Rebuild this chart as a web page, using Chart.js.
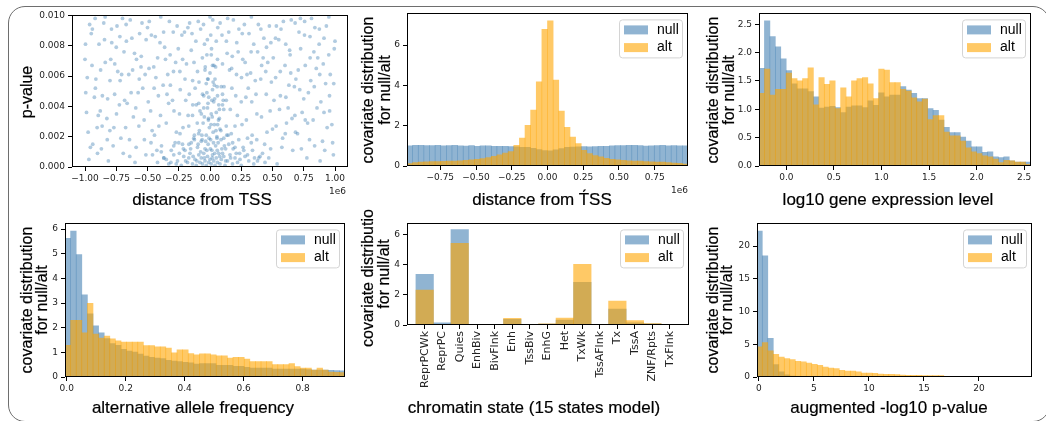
<!DOCTYPE html>
<html>
<head>
<meta charset="utf-8">
<script src="https://cdn.jsdelivr.net/npm/chart.js@4.4.1/dist/chart.umd.min.js"></script>
<style>
body { margin: 0; background: #fff; width: 1046px; height: 421px; overflow: hidden; position: relative; }
#frame { position: absolute; left: 8px; top: 6px; width: 1040px; height: 414px; border: 1.5px solid #6e6e6e; border-radius: 17px; }
.panel { position: absolute; }
.xt, .yt { position: absolute; font-family: "Liberation Sans", Arial, sans-serif; font-size: 16px; color: #000; white-space: nowrap; transform: translate(-50%, -50%); -webkit-text-stroke: 0.2px #000; }
.xt { font-size: 17px; }
.yt { transform: translate(-50%, -50%) rotate(-90deg); }
.off { position: absolute; font: 9px "DejaVu Sans"; color: #222; transform: translate(-100%, -50%); }
</style>
</head>
<body>
<div id="frame"></div>
<div class="panel" id="b1"><canvas id="c1"></canvas></div>
<div class="panel" id="b2"><canvas id="c2"></canvas></div>
<div class="panel" id="b3"><canvas id="c3"></canvas></div>
<div class="panel" id="b4"><canvas id="c4"></canvas></div>
<div class="panel" id="b5"><canvas id="c5"></canvas></div>
<div class="panel" id="b6"><canvas id="c6"></canvas></div>

<div class="xt" style="left:202px;top:200px">distance from TSS</div>
<div class="yt" style="left:27px;top:92px">p-value</div>
<div class="off" style="left:346px;top:191px">1e6</div>

<div class="xt" style="left:542px;top:200px">distance from T&#769;SS</div>
<div class="yt" style="left:368px;top:90px">covariate distribution</div>
<div class="yt" style="left:385px;top:90px">for null/alt</div>
<div class="off" style="left:688px;top:190px">1e6</div>

<div class="xt" style="left:888px;top:200px">log10 gene expression level</div>
<div class="yt" style="left:713px;top:90px">covariate distribution</div>
<div class="yt" style="left:729px;top:90px">for null/alt</div>

<div class="xt" style="left:193px;top:408px">alternative allele frequency</div>
<div class="yt" style="left:27px;top:300px">covariate distribution</div>
<div class="yt" style="left:42px;top:300px">for null/alt</div>

<div class="xt" style="left:534px;top:408px">chromatin state (15 states model)</div>
<div class="yt" style="left:368px;top:278px">covariate distributio</div>
<div class="yt" style="left:384px;top:274px">for null/alt</div>

<div class="xt" style="left:889px;top:408px">augmented -log10 p-value</div>
<div class="yt" style="left:713px;top:300px">covariate distribution</div>
<div class="yt" style="left:727px;top:300px">for null/alt</div>

<script>
// ---- panel 1: p-value vs distance from TSS (distance in units of 1e6)
const tssPoints = [
  [-1.00,.0071],[-0.975,.0023],[-0.95,.0088],[-0.925,.0046],[-0.90,.0009],[-0.875,.0064],[-0.85,.0095],[-0.825,.0032],[-0.80,.0057],[-0.775,.0014],
  [-0.75,.0079],[-0.725,.0041],[-0.70,.0098],[-0.675,.0026],[-0.65,.0061],[-0.625,.0085],[-0.60,.0003],[-0.575,.0049],[-0.55,.0073],[-0.525,.0018],
  [-0.50,.0092],[-0.475,.0037],[-0.45,.0066],[-0.425,.0011],[-0.40,.0082],[-0.375,.0054],[-0.35,.0029],[-0.325,.0096],[-0.30,.0044],[-0.275,.0069],
  [-0.25,.0016],[-0.225,.0087],[-0.20,.0058],[-0.175,.0034],[-0.15,.0077],[-0.125,.0021],[-0.10,.0063],[-0.075,.0091],[-0.05,.0047],[-0.025,.0074],
  [0.00,.0099],[0.025,.0056],[0.05,.0083],[0.075,.0038],[0.10,.0068],[0.125,.0012],[0.15,.0089],[0.175,.0052],[0.20,.0027],[0.225,.0076],
  [0.25,.0043],[0.275,.0094],[0.30,.0019],[0.325,.0062],[0.35,.0081],[0.375,.0035],[0.40,.0007],[0.425,.0072],[0.45,.0048],[0.475,.0093],
  [0.50,.0025],[0.525,.0059],[0.55,.0084],[0.575,.0013],[0.60,.0067],[0.625,.0039],[0.65,.0097],[0.675,.0053],[0.70,.0022],[0.725,.0078],
  [0.75,.0045],[0.775,.0006],[0.80,.0086],[0.825,.0031],[0.85,.0065],[0.875,.0091],[0.90,.0017],[0.925,.0055],[0.95,.0074],[0.975,.0028],[1.00,.0083],
  [-0.988,.0036],[-0.963,.0094],[-0.938,.0015],[-0.913,.0058],[-0.888,.0081],[-0.863,.0027],[-0.838,.0069],[-0.813,.0004],[-0.788,.0091],[-0.763,.0048],
  [-0.738,.0063],[-0.713,.0019],[-0.688,.0076],[-0.663,.0042],[-0.638,.0097],[-0.613,.0033],[-0.588,.0071],[-0.563,.0088],[-0.538,.0052],[-0.513,.0008],
  [-0.488,.0065],[-0.463,.0024],[-0.438,.0086],[-0.413,.0047],[-0.388,.0014],[-0.363,.0079],[-0.338,.0061],[-0.313,.0003],[-0.288,.0037],[-0.263,.0093],
  [-0.238,.0051],[-0.213,.0012],[-0.188,.0068],[-0.163,.0095],[-0.138,.0041],[-0.113,.0083],[-0.088,.0056],[-0.063,.0018],[-0.038,.0066],[-0.013,.0031],
  [0.012,.0078],[0.037,.0045],[0.062,.0092],[0.087,.0024],[0.112,.0053],[0.137,.0075],[0.162,.0038],[0.187,.0097],[0.212,.0061],[0.237,.0009],
  [0.262,.0071],[0.287,.0046],[0.312,.0088],[0.337,.0021],[0.362,.0057],[0.387,.0094],[0.412,.0033],[0.437,.0015],[0.462,.0069],[0.487,.0082],
  [0.512,.0044],[0.537,.0002],[0.562,.0063],[0.587,.0096],[0.612,.0029],[0.637,.0077],[0.662,.0011],[0.687,.0058],[0.712,.0089],[0.737,.0036],
  [0.762,.0067],[0.787,.0049],[0.812,.0098],[0.837,.0014],[0.862,.0072],[0.887,.0043],[0.912,.0085],[0.937,.0026],[0.962,.0061],[0.987,.0008],
  [-0.994,.0049],[-0.969,.0005],[-0.944,.0067],[-0.919,.0098],[-0.894,.0034],[-0.869,.0012],[-0.844,.0084],[-0.819,.0045],[-0.794,.0071],[-0.769,.0026],
  [-0.744,.0093],[-0.719,.0057],[-0.694,.0009],[-0.669,.0083],[-0.644,.0018],[-0.619,.0064],[-0.594,.0039],[-0.569,.0027],[-0.544,.0095],[-0.519,.0061],
  [-0.494,.0043],[-0.469,.0087],[-0.444,.0021],[-0.419,.0072],[-0.394,.0099],[-0.369,.0006],[-0.344,.0048],[-0.319,.0074],[-0.294,.0089],[-0.269,.0023],
  [-0.244,.0035],[-0.219,.0071],[-0.194,.0044],[-0.169,.0015],[-0.144,.0088],[-0.119,.0052],[-0.094,.0096],[-0.069,.0035],[-0.044,.0081],[-0.019,.0058],
  [0.006,.0087],[0.031,.0067],[0.056,.0019],[0.081,.0095],[0.106,.0044],[0.131,.0083],[0.156,.0064],[0.181,.0016],[0.206,.0047],[0.231,.0091],
  [0.256,.0028],[0.281,.0069],[0.306,.0052],[0.331,.0099],[0.356,.0006],[0.381,.0076],[0.406,.0058],[0.431,.0085],[0.456,.0023],[0.481,.0037],
  [0.506,.0072],[0.531,.0093],[0.556,.0038],[0.581,.0019],[0.606,.0081],[0.631,.0054],[0.656,.0032],[0.681,.0095],[0.706,.0064],[0.731,.0012],
  [0.756,.0087],[0.781,.0029],[0.806,.0057],[0.831,.0076],[0.856,.0039],[0.881,.0004],[0.906,.0068],[0.931,.0093],[0.956,.0047],[0.981,.0016],
  [-0.996,.0081],[-0.957,.0013],[-0.917,.0052],[-0.878,.0037],[-0.839,.0099],[-0.801,.0024],[-0.762,.0068],[-0.721,.0086],[-0.683,.0044],[-0.642,.0007],
  [-0.604,.0075],[-0.566,.0058],[-0.527,.0031],[-0.486,.0096],[-0.447,.0052],[-0.409,.0027],[-0.371,.0089],[-0.331,.0042],[-0.292,.0063],[-0.254,.0078],
  [-0.216,.0026],[-0.177,.0092],[-0.139,.0057],[-0.102,.0029],[-0.061,.0072],[-0.021,.0084],[0.018,.0033],[0.057,.0053],[0.096,.0087],[0.134,.0021],
  [0.173,.0065],[0.214,.0082],[0.252,.0059],[0.291,.0031],[0.329,.0076],[0.368,.0048],[0.407,.0091],[0.446,.0063],[0.485,.0012],[0.524,.0085],
  [0.563,.0047],[0.602,.0022],[0.641,.0074],[0.679,.0034],[0.718,.0051],[0.757,.0096],[0.796,.0018],[0.834,.0053],[0.873,.0081],[0.912,.0036],
  [0.951,.0099],[0.990,.0055],
  [-0.982,.0059],[-0.941,.0091],[-0.903,.0026],[-0.861,.0047],[-0.822,.0018],[-0.786,.0082],[-0.748,.0035],[-0.707,.0061],[-0.671,.0094],[-0.631,.0049],
  [-0.591,.0013],[-0.552,.0066],[-0.511,.0084],[-0.472,.0016],[-0.433,.0059],[-0.396,.0034],[-0.356,.0071],[-0.317,.0054],[-0.279,.0016],[-0.241,.0063],
  [-0.204,.0089],[-0.166,.0048],[-0.128,.0069],[-0.091,.0022],[-0.052,.0094],[-0.016,.0042],[0.022,.0097],[0.061,.0028],[0.100,.0041],[0.141,.0098],
  [0.178,.0073],[0.219,.0034],[0.258,.0088],[0.296,.0061],[0.334,.0043],[0.374,.0018],[0.413,.0067],[0.452,.0079],[0.491,.0056],[0.529,.0027],
  [0.568,.0091],[0.607,.0046],[0.646,.0062],[0.684,.0023],[0.723,.0098],[0.762,.0031],[0.801,.0072],[0.839,.0092],[0.878,.0061],[0.918,.0011],
  [0.957,.0037],[0.994,.0078],
  [-0.42,.0003],[-0.37,.0006],[-0.33,.0002],[-0.29,.0008],[-0.26,.0004],[-0.23,.0001],[-0.21,.0007],[-0.18,.0003],[-0.16,.0009],[-0.14,.0002],
  [-0.12,.0005],[-0.11,.0001],[-0.09,.0008],[-0.08,.0003],[-0.07,.0006],[-0.06,.0002],[-0.05,.0009],[-0.04,.0004],[-0.03,.0001],[-0.02,.0007],
  [-0.01,.0003],[0.00,.0005],[0.01,.0002],[0.02,.0008],[0.03,.0004],[0.04,.0001],[0.05,.0006],[0.06,.0003],[0.07,.0009],[0.08,.0002],
  [0.09,.0005],[0.11,.0007],[0.12,.0001],[0.14,.0004],[0.16,.0008],[0.18,.0002],[0.20,.0006],[0.22,.0003],[0.25,.0001],[0.28,.0007],
  [0.31,.0004],[0.35,.0002],[0.39,.0006],[0.44,.0003],
  [-0.35,.0005],[-0.31,.0011],[-0.27,.0002],[-0.245,.0009],[-0.22,.0015],[-0.195,.0004],[-0.17,.0006],[-0.155,.0012],[-0.135,.0007],[-0.125,.0018],
  [-0.105,.0004],[-0.095,.0015],[-0.075,.0010],[-0.065,.0021],[-0.045,.0006],[-0.035,.0017],[-0.025,.0011],[-0.012,.0032],[-0.008,.0019],[0.003,.0012],
  [0.008,.0028],[0.018,.0006],[0.028,.0016],[0.038,.0009],[0.048,.0024],[0.058,.0011],[0.068,.0031],[0.078,.0007],[0.088,.0018],[0.100,.0009],
  [0.115,.0014],[0.125,.0004],[0.145,.0021],[0.165,.0006],[0.185,.0012],[0.21,.0009],[0.24,.0005],[0.265,.0013],[0.30,.0008],[0.34,.0011],
  [0.38,.0004],[0.42,.0009],[-0.39,.0010],[0.47,.0006],[-0.46,.0008],
  [-0.29,.0014],[-0.24,.0022],[-0.20,.0011],[-0.17,.0027],[-0.15,.0016],[-0.13,.0019],[-0.10,.0013],[-0.085,.0024],[-0.07,.0017],[-0.055,.0029],
  [-0.04,.0012],[-0.03,.0021],[-0.015,.0015],[-0.005,.0026],[0.005,.0018],[0.015,.0011],[0.025,.0023],[0.035,.0028],[0.045,.0014],[0.055,.0020],
  [0.065,.0016],[0.08,.0025],[0.095,.0012],[0.11,.0019],[0.13,.0027],[0.15,.0015],[0.17,.0022],[0.20,.0013],[0.23,.0018],[0.27,.0011],[0.33,.0016],
  [-0.14,.0034],[-0.11,.0041],[-0.08,.0037],[-0.06,.0048],[-0.045,.0033],[-0.03,.0055],[-0.02,.0039],[-0.01,.0046],[0.00,.0062],[0.01,.0035],
  [0.02,.0051],[0.03,.0043],[0.04,.0058],[0.05,.0036],[0.06,.0047],[0.075,.0032],[0.09,.0053],[0.11,.0038],[0.13,.0044],[0.02,.0067],
  [-0.04,.0064],[0.06,.0071],[-0.09,.0042],[-0.05,.0039],[-0.025,.0049],[0.015,.0044],[0.035,.0054],[0.07,.0041],[0.10,.0048],[-0.015,.0058],
  [0.045,.0066],[0.01,.0074]
];
const tssXTicks = [-1, -0.75, -0.5, -0.25, 0, 0.25, 0.5, 0.75, 1];
const pvalYTicks = [0, 0.002, 0.004, 0.006, 0.008, 0.010];

// ---- panel 2: distance from TSS histogram (50 bins, units of 1e6)
const tssBinStart = -0.983, tssBinWidth = 0.03932;
const tssNull = [1.00,1.02,1.02,1.01,1.01,1.02,1.00,1.01,1.02,1.00,0.99,1.01,0.98,1.00,1.00,0.98,0.97,0.97,0.96,0.95,
                 0.93,0.92,0.88,0.82,0.76,0.75,0.80,0.87,0.92,0.94,0.95,0.96,0.95,0.96,0.97,0.98,1.00,1.01,1.01,1.02,
                 1.02,1.01,0.99,1.00,1.01,1.02,1.00,1.01,1.00,1.00];
const tssAlt = [0.12,0.17,0.20,0.21,0.22,0.22,0.23,0.24,0.25,0.26,0.28,0.30,0.33,0.37,0.42,0.48,0.55,0.64,0.72,1.03,
                1.39,2.02,2.77,4.18,6.78,7.20,4.26,2.72,1.92,1.44,1.11,0.78,0.62,0.52,0.45,0.38,0.33,0.30,0.28,0.26,
                0.25,0.24,0.22,0.21,0.20,0.19,0.17,0.15,0.13,0.10];
const tssHistXTicks = [-0.75, -0.5, -0.25, 0, 0.25, 0.5, 0.75];
const tssHistYTicks = [0, 2, 4, 6];

// ---- panel 3: log10 gene expression level (50 bins)
const exprBinStart = -0.288, exprBinWidth = 0.0572;
const exprNull = [1.72,2.56,2.28,2.10,1.89,1.68,1.45,1.36,1.36,1.31,1.22,1.02,1.04,1.05,1.03,0.94,1.04,1.06,1.06,1.03,
                  1.15,1.07,1.29,1.22,1.25,1.25,1.40,1.34,1.28,1.19,1.19,1.01,0.98,0.81,0.68,0.59,0.59,0.51,0.44,0.34,
                  0.34,0.24,0.25,0.16,0.15,0.16,0.09,0.07,0.07,0.07];
const exprAlt = [1.28,1.71,1.25,1.35,1.35,1.64,1.54,1.50,1.54,1.73,1.08,1.56,1.44,1.50,1.01,1.38,1.22,1.50,1.54,1.56,
                 1.45,1.19,1.71,1.69,1.47,1.47,1.35,1.32,1.20,1.13,1.18,0.82,0.89,0.89,0.60,0.53,0.53,0.44,0.32,0.25,
                 0.22,0.18,0.16,0.12,0.06,0.10,0.09,0.07,0.07,0.03];
const exprXTicks = [0, 0.5, 1, 1.5, 2, 2.5];
const exprYTicks = [0, 0.5, 1, 1.5, 2, 2.5];

// ---- panel 4: alternative allele frequency (50 bins)
const afBinStart = -0.006, afBinWidth = 0.019;
const afNull = [5.62,5.92,4.97,3.33,2.56,2.08,1.79,1.56,1.36,1.28,1.12,1.05,1.01,0.93,0.85,0.80,0.77,0.75,0.68,0.65,
                0.63,0.60,0.57,0.52,0.54,0.54,0.54,0.47,0.47,0.47,0.43,0.43,0.39,0.36,0.36,0.36,0.36,0.32,0.32,0.32,
                0.32,0.32,0.32,0.30,0.28,0.28,0.28,0.27,0.26,0.25];
const afAlt = [1.28,2.30,2.30,1.79,2.99,1.74,1.58,1.66,1.55,1.47,1.42,1.42,1.42,1.42,1.27,1.27,1.22,1.22,1.17,0.98,
               1.10,1.10,0.95,0.90,0.94,0.94,0.90,0.86,0.86,0.77,0.80,0.80,0.73,0.63,0.63,0.63,0.63,0.50,0.50,0.50,
               0.54,0.42,0.36,0.36,0.28,0.36,0.28,0.20,0.19,0.18];
const afXTicks = [0, 0.2, 0.4, 0.6, 0.8];
const afYTicks = [0, 1, 2, 3, 4, 5, 6];

// ---- panel 5: chromatin state (15 states model)
const states = ['ReprPCWk','ReprPC','Quies','EnhBiv','BivFlnk','Enh','TssBiv','EnhG','Het','TxWk','TssAFlnk','Tx','TssA','ZNF/Rpts','TxFlnk'];
const stateNull = [3.35,0.15,6.32,0.01,0.00,0.37,0.01,0.06,0.33,2.83,0.02,1.06,0.15,0.07,0.02];
const stateAlt  = [2.32,0.05,5.41,0.02,0.01,0.45,0.02,0.08,0.46,4.02,0.03,1.59,0.29,0.09,0.03];
const stateYTicks = [0, 2, 4, 6];

// ---- panel 6: augmented -log10 p-value (34 bins)
const augBinStart = -0.2, augBinWidth = 0.5;
const augNull = [22.3,18.5,5.9,1.9,0.8,0.35,0.15,0.08,0.04,0.02,0,0,0,0,0,0,0,0,0,0,0,0,0,0,0,0,0,0,0,0,0,0,0,0];
const augAlt = [4.6,5.25,4.0,3.47,3.06,2.8,2.65,2.4,2.3,2.14,1.94,1.8,1.5,1.38,1.28,1.02,0.92,0.92,0.8,0.6,
                0.6,0.56,0.46,0.4,0.4,0.36,0.3,0.26,0.25,0.25,0.22,0.22,0.2,0.2];
const augXTicks = [0, 5, 10, 15, 20];
const augYTicks = [0, 5, 10, 15, 20];

// ---- layout (plot area of each panel in page pixels: left, top, right, bottom)
const PAD_L = 48, PAD_T = 8, PAD_R = 16;
const BLUE = 'rgba(70,130,180,0.6)';
const ORANGE = 'rgba(255,165,0,0.6)';

Chart.defaults.font.family = 'DejaVu Sans';
Chart.defaults.animation = false;

function place(id, r, padB) {
    const el = document.getElementById(id);
    el.style.left = (r[0] - PAD_L) + 'px';
    el.style.top = (r[1] - PAD_T) + 'px';
    el.style.width = (r[2] - r[0] + PAD_L + PAD_R) + 'px';
    el.style.height = (r[3] - r[1] + PAD_T + padB) + 'px';
}

function fmt(v, d) {
    return (v < 0 ? '\u2212' : '') + Math.abs(v).toFixed(d);
}

function axis(min, max, ticks, label, fit, extra) {
    const a = {
        type: 'linear', min: min, max: max, offset: false,
        afterBuildTicks: s => { s.ticks = ticks.map(v => ({ value: v })); },
        afterFit: fit,
        grid: { drawOnChartArea: false, tickLength: 4, tickColor: '#000', offset: false },
        border: { display: false },
        ticks: { autoSkip: false, maxRotation: 0, minRotation: 0, color: '#222', font: { size: 9 }, padding: 2, callback: label }
    };
    if (extra) Object.assign(a.ticks, extra);
    return a;
}

// spines + legend box, drawn over the bars
const framePlugin = {
    id: 'frame',
    afterDatasetsDraw(chart) {
        const ctx = chart.ctx, a = chart.chartArea;
        ctx.save();
        ctx.strokeStyle = '#000';
        ctx.lineWidth = 1;
        ctx.strokeRect(Math.round(a.left) + 0.5, Math.round(a.top) + 0.5,
                       Math.round(a.right - a.left) - 1, Math.round(a.bottom - a.top) - 1);
        const sets = chart.data.datasets;
        if (sets.length > 1) {
            const bx = a.right - 69, by = a.top + 6;
            ctx.beginPath();
            ctx.roundRect(bx + 0.5, by + 0.5, 63, 38, 3);
            ctx.fillStyle = 'rgba(255,255,255,0.8)';
            ctx.fill();
            ctx.strokeStyle = '#d4d4d4';
            ctx.stroke();
            ctx.font = '14px "Liberation Sans"';
            ctx.textBaseline = 'middle';
            sets.forEach((ds, i) => {
                ctx.fillStyle = ds.backgroundColor;
                ctx.fillRect(bx + 5, by + 6 + i * 17.7, 24, 9);
                ctx.fillStyle = '#000';
                ctx.fillText(ds.label, bx + 38, by + 10.5 + i * 17.7);
            });
        }
        ctx.restore();
    }
};

function centers(start, width, n) {
    return Array.from({ length: n }, (_, i) => start + (i + 0.5) * width);
}

function histChart(id, xs, nullVals, altVals, xAxis, yAxis) {
    const bar = { grouped: false, barPercentage: 1, categoryPercentage: 1, borderWidth: 0 };
    return new Chart(document.getElementById(id), {
        type: 'bar',
        data: {
            datasets: [
                Object.assign({ label: 'null', order: 1, backgroundColor: BLUE,
                                data: xs.map((x, i) => ({ x: x, y: nullVals[i] })) }, bar),
                Object.assign({ label: 'alt', order: 0, backgroundColor: ORANGE,
                                data: xs.map((x, i) => ({ x: x, y: altVals[i] })) }, bar)
            ]
        },
        options: {
            responsive: true,
            maintainAspectRatio: false,
            layout: { padding: { top: PAD_T, right: PAD_R, left: 0, bottom: 0 } },
            plugins: { legend: { display: false }, tooltip: { enabled: false } },
            scales: { x: xAxis, y: yAxis }
        },
        plugins: [framePlugin]
    });
}

const fitY = s => { s.width = PAD_L; };
const fitX = h => (s => { s.height = h; });

// panel 1
place('b1', [72, 15, 348, 167], 24);
new Chart(document.getElementById('c1'), {
    type: 'scatter',
    data: {
        datasets: [{
            label: 'p-value',
            data: tssPoints.map(p => ({ x: p[0], y: p[1] })),
            backgroundColor: 'rgba(70,130,180,0.42)',
            borderWidth: 0,
            pointRadius: 1.9
        }]
    },
    options: {
        responsive: true,
        maintainAspectRatio: false,
        layout: { padding: { top: PAD_T, right: PAD_R, left: 0, bottom: 0 } },
        plugins: { legend: { display: false }, tooltip: { enabled: false } },
        scales: {
            x: axis(-1.104, 1.104, tssXTicks, v => fmt(v, 2), fitX(24)),
            y: axis(0, 0.010, pvalYTicks, v => fmt(v, 3), fitY, { padding: 3 })
        }
    },
    plugins: [framePlugin]
});

// panel 2
place('b2', [407, 13, 688, 166], 24);
histChart('c2', centers(tssBinStart, tssBinWidth, tssNull.length), tssNull, tssAlt,
    axis(-0.983, 0.983, tssHistXTicks, v => fmt(v, 2), fitX(24)),
    axis(0, 7.57, tssHistYTicks, v => fmt(v, 0), fitY, { padding: 3 }));

// panel 3
place('b3', [759, 13, 1031, 166], 24);
histChart('c3', centers(exprBinStart, exprBinWidth, exprNull.length), exprNull, exprAlt,
    axis(-0.288, 2.572, exprXTicks, v => fmt(v, 1), fitX(24)),
    axis(0, 2.69, exprYTicks, v => fmt(v, 1), fitY, { padding: 3 }));

// panel 4
place('b4', [65, 223, 345, 377], 24);
histChart('c4', centers(afBinStart, afBinWidth, afNull.length), afNull, afAlt,
    axis(-0.006, 0.944, afXTicks, v => fmt(v, 1), fitX(24)),
    axis(0, 6.23, afYTicks, v => fmt(v, 0), fitY, { padding: 3 }));

// panel 5
place('b5', [407, 223, 689, 325], 78);
histChart('c5', states.map((s, i) => i), stateNull, stateAlt,
    axis(-1.01, 15.09, states.map((s, i) => i), v => states[v], fitX(78),
         { minRotation: 90, maxRotation: 90, font: { size: 11 } }),
    axis(0, 6.73, stateYTicks, v => fmt(v, 0), fitY, { padding: 3 }));

// panel 6
place('b6', [757, 223, 1032, 377], 24);
histChart('c6', centers(augBinStart, augBinWidth, augNull.length), augNull, augAlt,
    axis(-0.18, 24.82, augXTicks, v => fmt(v, 0), fitX(24)),
    axis(0, 23.47, augYTicks, v => fmt(v, 0), fitY, { padding: 3 }));
</script>
</body>
</html>
